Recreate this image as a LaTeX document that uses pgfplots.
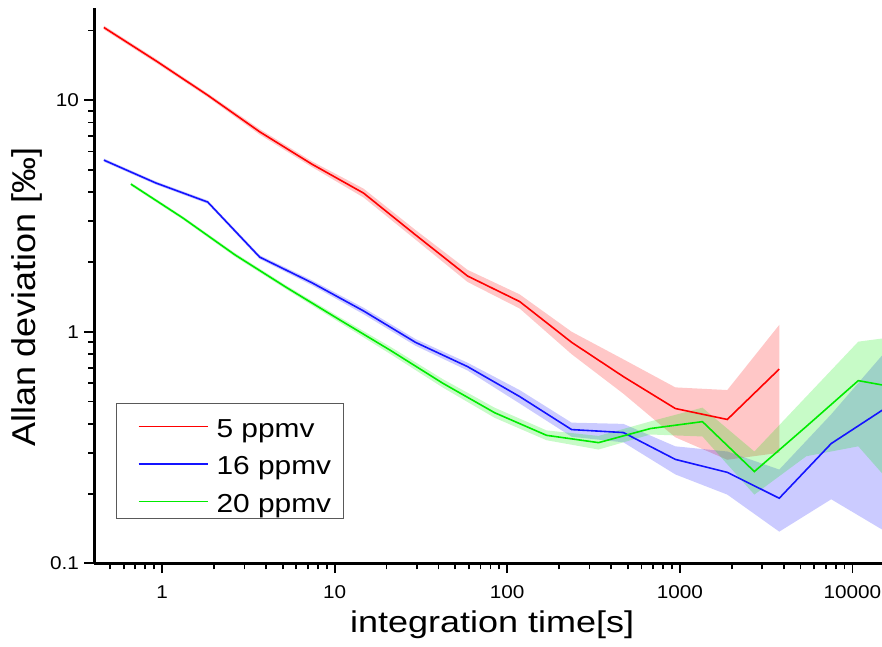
\documentclass[border=0pt]{standalone}
\usepackage{pgfplots}
\pgfplotsset{compat=1.18}
\usepackage{pgfplotstable}
\usepgfplotslibrary{fillbetween}
\usepackage{graphicx}
\usepackage{fontspec}
\setmainfont{Liberation Sans}
\newcommand\sx[1]{\scalebox{1.12}[1]{#1}}
\newcommand\slb[1]{\scalebox{1.15}[1]{#1}}
\definecolor{cred}{RGB}{255,0,0}
\definecolor{cblue}{RGB}{20,20,255}
\definecolor{cgreen}{RGB}{0,235,0}
\newcommand\legline[1]{\hspace*{10pt}\textcolor{#1}{\rule[10pt]{69pt}{1.9pt}}\hspace*{9pt}}

\pgfplotstableread{
x y lo hi
0.46 20.6 20.2 21.0
0.92 14.8 14.5 15.1
1.84 10.5 10.3 10.7
3.68 7.3 7.1 7.5
7.36 5.3 5.15 5.45
14.7 3.97 3.8 4.15
29.4 2.62 2.5 2.75
58.9 1.74 1.64 1.85
118 1.35 1.26 1.45
236 0.90 0.80 1.00
471 0.64 0.54 0.76
942 0.466 0.35 0.575
1884 0.418 0.28 0.56
3768 0.69 0.30 1.07
}\redtab

\pgfplotstableread{
x y lo hi
0.46 5.51 5.42 5.60
0.92 4.39 4.32 4.46
1.84 3.63 3.57 3.69
3.68 2.10 2.06 2.14
7.36 1.63 1.59 1.67
14.7 1.23 1.19 1.27
29.4 0.90 0.87 0.93
58.9 0.707 0.68 0.735
118 0.525 0.49 0.56
236 0.378 0.352 0.405
471 0.367 0.333 0.40
942 0.281 0.242 0.32
1884 0.247 0.198 0.304
3768 0.191 0.137 0.254
7536 0.329 0.189 0.44
15072 0.461 0.139 0.80
}\bluetab

\pgfplotstableread{
x y lo hi
0.66 4.34 4.27 4.41
1.32 3.10 3.05 3.15
2.64 2.15 2.11 2.19
5.28 1.55 1.52 1.58
10.6 1.13 1.10 1.16
21.1 0.83 0.80 0.86
42.2 0.60 0.575 0.625
84.5 0.447 0.425 0.47
169 0.357 0.34 0.375
338 0.332 0.31 0.355
676 0.382 0.36 0.41
1352 0.409 0.353 0.47
2703 0.249 0.198 0.304
5407 0.39 0.29 0.525
10813 0.615 0.32 0.906
21626 0.56 0.178 0.97
}\greentab

\begin{document}
\begin{tikzpicture}
\begin{axis}[
  at={(94.3pt,82.7pt)}, anchor=south west,
  scale only axis, width=787.7pt, height=555.3pt,
  xmode=log, ymode=log,
  xmin=0.405, xmax=14840, ymin=0.1, ymax=25,
  axis x line=bottom, axis y line=left,
  axis line style={-, line width=2.4pt, black},
  tick align=outside,
  major tick length=10pt, minor tick length=6pt,
  every tick/.style={black, line width=1.8pt},
  xtick={1,10,100,1000,10000},
  xticklabels={\sx{1},\sx{10},\sx{100},\sx{1000},\sx{10000}},
  minor xtick={0.5,0.6,0.7,0.8,0.9,2,3,4,5,6,7,8,9,20,30,40,50,60,70,80,90,200,300,400,500,600,700,800,900,2000,3000,4000,5000,6000,7000,8000,9000},
  ytick={0.1,1,10},
  yticklabels={\sx{0.1},\sx{1},\sx{10}},
  minor ytick={0.2,0.3,0.4,0.5,0.6,0.7,0.8,0.9,2,3,4,5,6,7,8,9,20},
  ticklabel style={font=\fontsize{18.5}{20}\selectfont},
  xticklabel style={yshift=-9pt},
  yticklabel style={xshift=-2pt},
  xlabel={\scalebox{1.2}[1]{integration time[s]}},
  xlabel style={font=\fontsize{30}{34}\selectfont, at={(axis description cs:0.5,0)}, anchor=base, yshift=-68.7pt, xshift=4pt},
  ylabel={\scalebox{1.09}[1]{Allan deviation [‰]}},
  ylabel style={font=\fontsize{33}{36}\selectfont, at={(axis description cs:0,0.4796)}, anchor=base, yshift=59pt},
  legend cell align=left,
  legend image code/.code={},
  legend style={at={(0.0276,0.2887)}, anchor=north west, draw=black!65, line width=1pt,
    font=\fontsize{26}{30}\selectfont, inner xsep=12pt, inner ysep=6pt,
    nodes={inner sep=0pt, text height=28pt, text depth=0pt},
    row sep=9.5pt,
    /tikz/every odd column/.append style={column sep=0pt}},
  clip=true,
]
\addplot[name path=rU, draw=none, forget plot] table[x=x, y=hi] {\redtab};
\addplot[name path=rL, draw=none, forget plot] table[x=x, y=lo] {\redtab};
\addplot[cred, fill opacity=0.22, draw=none, forget plot] fill between[of=rU and rL];

\addplot[name path=bU, draw=none, forget plot] table[x=x, y=hi] {\bluetab};
\addplot[name path=bL, draw=none, forget plot] table[x=x, y=lo] {\bluetab};
\addplot[cblue, fill opacity=0.22, draw=none, forget plot] fill between[of=bU and bL];

\addplot[name path=gU, draw=none, forget plot] table[x=x, y=hi] {\greentab};
\addplot[name path=gL, draw=none, forget plot] table[x=x, y=lo] {\greentab};
\addplot[cgreen, fill opacity=0.22, draw=none, forget plot] fill between[of=gU and gL];

\addplot[cred, line width=1.6pt] table[x=x, y=y] {\redtab};
\addlegendentry{\legline{cred}\slb{5 ppmv}}
\addplot[cblue, line width=1.6pt] table[x=x, y=y] {\bluetab};
\addlegendentry{\legline{cblue}\slb{16 ppmv}}
\addplot[cgreen, line width=1.6pt] table[x=x, y=y] {\greentab};
\addlegendentry{\legline{cgreen}\slb{20 ppmv}}
\end{axis}
\pgfresetboundingbox
\useasboundingbox (0,0) rectangle (882pt,646pt);
\end{tikzpicture}
\end{document}
